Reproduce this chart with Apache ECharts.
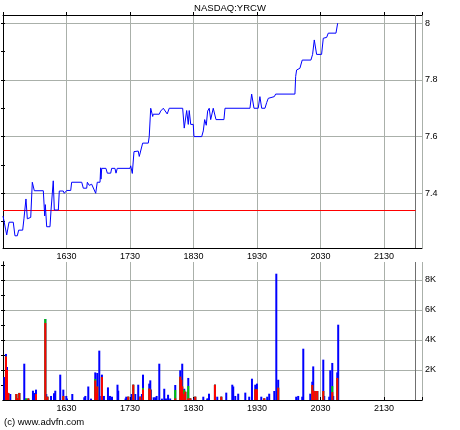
<!DOCTYPE html>
<html><head><meta charset="utf-8">
<script src="https://cdn.jsdelivr.net/npm/echarts@6/dist/echarts.min.js"></script>
<style>html,body{margin:0;padding:0;background:#fff}#c{width:460px;height:430px}</style>
</head><body><div id="c"></div>
<script>
// ---- data (time = minutes after 15:30) ----
const chartTitle = 'NASDAQ:YRCW';
const copyright = '(c) www.advfn.com';
const timeLabels = ['1630', '1730', '1830', '1930', '2030', '2130'];
const priceTicks = [7.3, 7.4, 7.5, 7.6, 7.7, 7.8, 7.9, 8.0];
const priceLabels = [7.4, 7.6, 7.8, 8];
const volTicks = [1000, 2000, 3000, 4000, 5000, 6000, 7000, 8000, 9000];
const volLabelValues = [2000, 4000, 6000, 8000];
const volLabels = ['2K', '4K', '6K', '8K'];
const prevClose = [7.341];
const sessionEnd = [390];

const priceTimes = [0, 3.5, 5.7, 9.7, 11.3, 13.5, 14.8, 18.6, 19.8, 21.7, 23.0, 26.2, 27.7, 29.6, 38.1, 39.4, 40.0, 41.3, 44.4, 45.4,
  47.5, 48.5, 52.3, 53.2, 57.0, 57.9, 60.2, 64.0, 64.9, 74.4, 75.9, 79.1, 79.7, 81.5, 83.8, 87.6, 89.1, 91.7, 92.3, 92.6,
  93.3, 97.3, 98.6, 101.8, 102.7, 104.2, 105.8, 106.8, 108.0, 120.0, 120.7, 122.2, 123.8, 127.8, 128.8, 132.0, 137.3, 138.2, 139.6, 141.5,
  142.0, 147.7, 149.0, 151.5, 155.2, 157.1, 169.8, 171.3, 173.6, 175.1, 176.0, 177.4, 179.8, 180.5, 187.8, 189.3, 190.6, 192.1, 193.4, 194.9,
  196.3, 198.7, 201.3, 208.8, 209.8, 233.4, 235.0, 237.2, 241.2, 242.8, 244.5, 247.6, 249.2, 250.7, 251.3, 256.4, 257.7, 275.9, 276.6, 277.5,
  280.6, 282.8, 291.0, 292.6, 294.2, 296.4, 301.1, 302.7, 305.9, 307.4, 314.7, 316.3];
const prices = [7.32, 7.253, 7.298, 7.298, 7.25, 7.25, 7.27, 7.27, 7.31, 7.38, 7.31, 7.315, 7.439, 7.409, 7.409, 7.32, 7.36, 7.282, 7.282, 7.341,
  7.444, 7.341, 7.341, 7.408, 7.408, 7.4, 7.41, 7.41, 7.439, 7.439, 7.418, 7.418, 7.439, 7.428, 7.432, 7.4, 7.439, 7.439, 7.49, 7.45,
  7.488, 7.488, 7.471, 7.471, 7.488, 7.482, 7.488, 7.471, 7.488, 7.488, 7.497, 7.47, 7.547, 7.549, 7.53, 7.577, 7.577, 7.6, 7.7, 7.671,
  7.679, 7.679, 7.69, 7.7, 7.68, 7.7, 7.7, 7.63, 7.692, 7.643, 7.692, 7.643, 7.643, 7.6, 7.6, 7.62, 7.66, 7.64, 7.69, 7.7,
  7.66, 7.7, 7.66, 7.66, 7.7, 7.7, 7.75, 7.7, 7.7, 7.741, 7.7, 7.7, 7.72, 7.735, 7.741, 7.741, 7.75, 7.75, 7.812, 7.835,
  7.841, 7.87, 7.87, 7.89, 7.941, 7.89, 7.89, 7.947, 7.95, 7.965, 7.965, 8.0];

const volTimes = [1.2, 2.8, 3.8, 5, 6.9, 12.6, 13.5, 15.4, 20.1, 21.7, 23.9, 28.3, 29.3, 31.2, 40, 40.9, 42, 45.4, 48.2, 49.4,
  54.1, 57, 59.8, 60.5, 65.5, 76.8, 77.8, 80.6, 83.2, 87.2, 88.2, 89.1, 91, 92.9, 93.5, 95.4, 99.2, 101.1, 103, 108.2,
  108.9, 115.8, 116.5, 118.4, 121.6, 123.1, 125, 127.8, 129.7, 131.3, 132.3, 138.2, 139.2, 139.8, 142.4, 143.9, 145.2, 147.7, 150.2, 152.4,
  154, 156, 158, 162.8, 167.5, 168.5, 169.4, 171.3, 172.3, 175.1, 177, 180.8, 181.7, 189.3, 193, 194, 194.7, 200.3, 202.5, 206.3,
  211, 216.7, 217.6, 219.5, 222.3, 229, 232.7, 235.3, 238.4, 240, 244.1, 246.9, 249.7, 251.6, 256.4, 258.3, 260.1, 277.1, 279, 282.8,
  283.8, 290.4, 292.3, 293.2, 295.1, 297, 302.7, 303.6, 308.3, 309.3, 311.2, 312.1, 315.9, 316.8];
const volRed = [0, 2900, 2000, 470, 0, 400, 100, 470, 0, 0, 100, 0, 0, 400, 5130, 0, 220, 0, 0, 0,
  0, 270, 0, 0, 0, 0, 0, 0, 0, 1300, 400, 900, 0, 0, 1530, 0, 0, 0, 0, 0,
  0, 0, 0, 220, 0, 1020, 0, 0, 220, 0, 700, 760, 690, 0, 0, 0, 0, 0, 0, 0,
  0, 0, 0, 110, 1550, 1350, 900, 400, 550, 110, 110, 0, 220, 0, 0, 0, 0, 1020, 0, 220,
  0, 0, 0, 0, 0, 0, 0, 0, 710, 710, 0, 110, 0, 0, 0, 0, 820, 0, 0, 0,
  0, 0, 1000, 620, 600, 600, 600, 0, 0, 0, 530, 0, 1470, 0];
const volGreen = [0, 0, 0, 0, 0, 0, 0, 0, 0, 100, 0, 0, 0, 0, 270, 0, 0, 0, 0, 0,
  0, 0, 0, 0, 0, 0, 0, 0, 0, 100, 0, 0, 0, 0, 0, 0, 0, 0, 0, 0,
  0, 0, 0, 0, 0, 0, 0, 0, 0, 0, 100, 0, 0, 0, 0, 0, 0, 0, 0, 0,
  0, 0, 0, 560, 0, 0, 0, 270, 0, 830, 0, 0, 0, 0, 0, 0, 0, 0, 0, 0,
  0, 0, 0, 0, 0, 0, 0, 0, 0, 0, 0, 0, 0, 0, 0, 0, 0, 0, 0, 0,
  0, 0, 0, 0, 0, 0, 0, 0, 0, 0, 400, 0, 0, 0];
const volBlue = [1530, 170, 200, 0, 400, 0, 0, 0, 2420, 0, 0, 620, 470, 290, 0, 400, 0, 270, 450, 620,
  1690, 420, 270, 100, 400, 180, 270, 900, 90, 440, 0, 900, 3290, 270, 160, 270, 840, 270, 220, 1020,
  620, 100, 220, 0, 400, 0, 400, 1020, 0, 400, 890, 330, 620, 690, 180, 180, 270, 2420, 90, 750,
  100, 350, 100, 330, 430, 0, 1520, 80, 0, 530, 0, 110, 0, 220, 100, 100, 420, 0, 220, 0,
  490, 1020, 900, 270, 420, 490, 220, 1420, 310, 380, 220, 0, 220, 420, 600, 8420, 530, 220, 270, 220,
  3420, 420, 220, 1620, 0, 0, 2090, 270, 220, 1980, 1540, 270, 370, 5020];

// ---- build ----
const FONT = 'Liberation Sans';
const BLACK = '#000';
const GRID = '#aab0aa';
const priceData = priceTimes.map((t, i) => [t, prices[i]]);
const volAll = volTimes.map((t, i) => [t, volRed[i] + volGreen[i] + volBlue[i]]);
const volRG = volTimes.map((t, i) => [t, volRed[i] + volGreen[i]]);
const volR = volTimes.map((t, i) => [t, volRed[i]]);

function xLabel(v) {
  const k = Math.round(v / 60);
  if (Math.abs(v - k * 60) < 1e-6 && k >= 1 && k <= timeLabels.length) return timeLabels[k - 1];
  return '';
}
function pLabel(v) {
  const i = priceLabels.findIndex(p => Math.abs(p - v) < 1e-6);
  return i >= 0 ? String(priceLabels[i]) : '';
}
function vLabel(v) {
  const i = volLabelValues.findIndex(p => Math.abs(p - v) < 1e-6);
  return i >= 0 ? volLabels[i] : '';
}

const line = { show: true, lineStyle: { color: BLACK, width: 1 } };
const lbl = { color: BLACK, fontFamily: FONT, fontSize: 9 };

function xAxes(gi) {
  return [
    { gridIndex: gi, type: 'value', position: 'bottom', min: 0, max: 396, interval: 60,
      axisLine: line, axisTick: { show: false },
      axisLabel: Object.assign({ formatter: xLabel, margin: 4, showMinLabel: false, showMaxLabel: false }, lbl),
      splitLine: { show: true, lineStyle: { color: GRID, width: 1 } } },
    { gridIndex: gi, type: 'value', position: 'top', min: 0, max: 396, interval: 60,
      axisLine: line, axisTick: { show: true, length: 3, lineStyle: { color: BLACK } },
      axisLabel: { show: false }, splitLine: { show: false } }
  ];
}
function yAxes(gi, min, max, ticks, majors, fmt) {
  return [
    { gridIndex: gi, type: 'value', position: 'right', min, max,
      axisLine: line,
      axisTick: { show: true, inside: true, length: 2, customValues: ticks, lineStyle: { color: BLACK } },
      axisLabel: Object.assign({ formatter: fmt, margin: 3, customValues: majors }, lbl),
      splitLine: { show: false } },
    { gridIndex: gi, type: 'value', position: 'left', min, max,
      axisLine: line,
      axisTick: { show: true, inside: true, length: 2, customValues: ticks, lineStyle: { color: BLACK } },
      axisLabel: { show: false }, splitLine: { show: false } },
    { gridIndex: gi, type: 'value', position: 'left', min, max,
      axisLine: { show: false }, axisTick: { show: false, customValues: majors }, axisLabel: { show: false },
      splitLine: { show: true, lineStyle: { color: GRID, width: 1 } } }
  ];
}

const chart = echarts.init(document.getElementById('c'), null, { renderer: 'canvas' });
chart.setOption({
  animation: false,
  backgroundColor: '#fff',
  title: { text: chartTitle, left: 'center', top: 3, padding: 0,
    textStyle: { fontFamily: FONT, fontSize: 9.5, fontWeight: 'normal', color: BLACK } },
  grid: [
    { left: 3, top: 15, width: 419, height: 233 },
    { left: 3, top: 262, width: 419, height: 138 }
  ],
  xAxis: [...xAxes(0), ...xAxes(1)],
  yAxis: [...yAxes(0, 7.207, 8.029, priceTicks, priceLabels, pLabel),
          ...yAxes(1, 0, 9200, volTicks, volLabelValues, vLabel)],
  graphic: [{ type: 'text', left: 4, top: 417,
    style: { text: copyright, fill: BLACK, font: '9.5px "Liberation Sans"' } }],
  series: [
    { type: 'line', xAxisIndex: 0, yAxisIndex: 0, data: priceData, symbol: 'none',
      lineStyle: { color: '#0000ff', width: 1 }, z: 5,
      markLine: { silent: true, symbol: 'none', label: { show: false }, animation: false,
        data: [
          { xAxis: sessionEnd[0], lineStyle: { color: '#707070', width: 1, type: 'solid' } },
          [{ coord: [0, prevClose[0]], lineStyle: { color: '#ff0000', width: 1, type: 'solid' } },
           { coord: [sessionEnd[0], prevClose[0]] }]
        ] } },
    { type: 'bar', xAxisIndex: 2, yAxisIndex: 3, data: volAll, barWidth: 2, barGap: '-100%',
      itemStyle: { color: '#0000ff' },
      markLine: { silent: true, symbol: 'none', label: { show: false }, animation: false,
        data: [{ xAxis: sessionEnd[0], lineStyle: { color: '#707070', width: 1, type: 'solid' } }] } },
    { type: 'bar', xAxisIndex: 2, yAxisIndex: 3, data: volRG, barWidth: 2, barGap: '-100%',
      itemStyle: { color: '#00c800' } },
    { type: 'bar', xAxisIndex: 2, yAxisIndex: 3, data: volR, barWidth: 2, barGap: '-100%',
      itemStyle: { color: '#ff0000' } }
  ]
});
</script></body></html>
